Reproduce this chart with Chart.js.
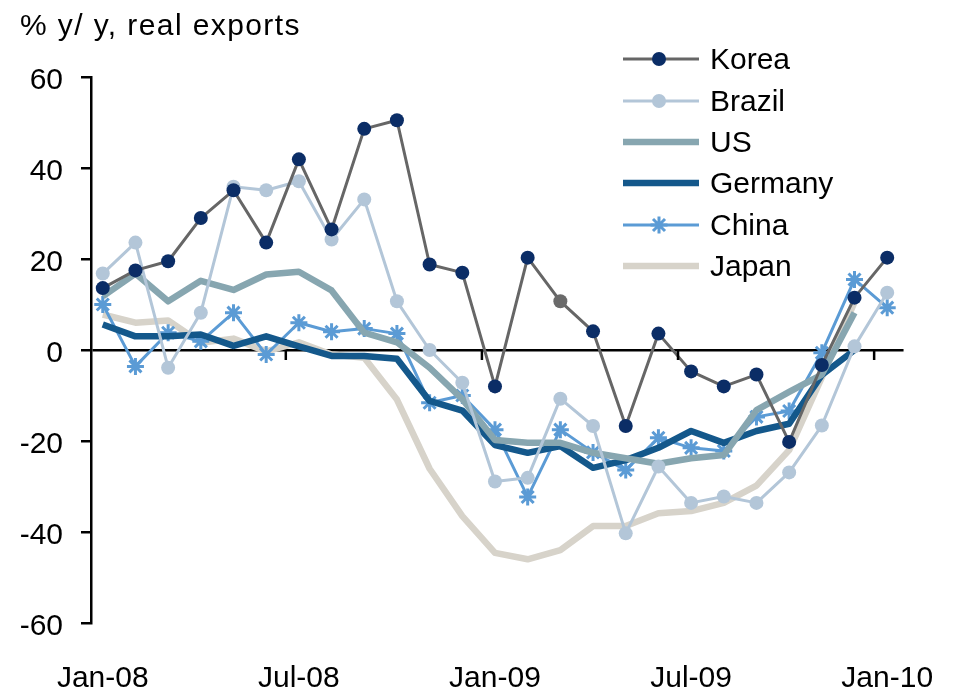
<!DOCTYPE html>
<html>
<head>
<meta charset="utf-8">
<script src="https://cdn.jsdelivr.net/npm/chart.js@4.4.1/dist/chart.umd.min.js"></script>
<style>
  html, body { margin: 0; padding: 0; background: #ffffff; }
  #wrap { width: 972px; height: 693px; position: relative; }
</style>
</head>
<body>
<div id="wrap"><canvas id="c" width="972" height="693"></canvas></div>
<script>
// ---- data ----
const months = ['Jan-08','Feb-08','Mar-08','Apr-08','May-08','Jun-08','Jul-08','Aug-08','Sep-08','Oct-08','Nov-08','Dec-08',
                'Jan-09','Feb-09','Mar-09','Apr-09','May-09','Jun-09','Jul-09','Aug-09','Sep-09','Oct-09','Nov-09','Dec-09','Jan-10'];
const tickLabels = ['Jan-08','Jul-08','Jan-09','Jul-09','Jan-10'];
const titleText = '% y/ y, real exports';

const korea   = [13.6, 17.5, 19.5, 29.0, 35.1, 23.6, 41.9, 26.5, 48.6, 50.5, 18.8, 17.0, -8.0, 20.3, 10.7, 4.1, -16.7, 3.6, -4.7, -8.0, -5.4, -20.2, -3.3, 11.5, 20.3];
const brazil  = [16.8, 23.6, -3.9, 8.2, 35.9, 35.1, 37.1, 24.3, 33.1, 10.7, 0.0, -7.2, -28.9, -28.1, -10.7, -16.7, -40.3, -25.6, -33.6, -32.2, -33.6, -26.9, -16.6, 0.8, 12.6];
const us      = [11.8, 16.8, 10.7, 15.2, 13.2, 16.6, 17.2, 13.1, 3.8, 1.7, -3.9, -10.8, -19.8, -20.4, -20.4, -22.6, -23.8, -25.0, -23.8, -23.1, -13.2, -9.2, -5.4, 8.2];
const germany = [5.6, 3.0, 3.0, 3.4, 0.9, 3.0, 0.8, -1.3, -1.3, -1.9, -11.2, -13.3, -20.9, -22.6, -21.1, -25.9, -24.2, -21.5, -17.8, -20.4, -17.8, -16.2, -5.5, 0.0];
const china   = [10.0, -3.6, 3.8, 1.9, 8.2, -1.0, 6.0, 4.0, 4.7, 3.6, -11.6, -10.0, -17.5, -32.3, -17.5, -22.5, -26.4, -19.3, -21.5, -22.2, -14.7, -13.4, -0.6, 15.5, 9.3];
const japan   = [7.8, 6.0, 6.5, 1.6, 2.5, -0.3, 1.7, -1.0, -1.7, -10.9, -26.1, -36.5, -44.6, -46.0, -44.0, -38.7, -38.7, -35.9, -35.4, -33.6, -29.8, -22.0, -6.0, 10.5];

// ---- build library structures ----
const toXY = arr => arr.map((v, i) => ({ x: i, y: v }));
const FONT = '"Liberation Sans", Arial, sans-serif';

const koreaPointColors = korea.map((v, i) => i === 14 ? '#6a6a6a' : '#0b2d66');

const datasets = [
  { label: 'Korea', data: toXY(korea), borderColor: '#666666', borderWidth: 3,
    pointStyle: 'circle', pointRadius: 7, pointBackgroundColor: koreaPointColors,
    pointBorderColor: koreaPointColors, pointBorderWidth: 0, legendMarker: 'circle', legendMarkerColor: '#0b2d66' },
  { label: 'Brazil', data: toXY(brazil), borderColor: '#b3c6d8', borderWidth: 3,
    pointStyle: 'circle', pointRadius: 7, pointBackgroundColor: '#b3c6d8',
    pointBorderColor: '#b3c6d8', pointBorderWidth: 0, legendMarker: 'circle', legendMarkerColor: '#b3c6d8' },
  { label: 'US', data: toXY(us), borderColor: '#87a6b0', borderWidth: 6.5, pointRadius: 0 },
  { label: 'Germany', data: toXY(germany), borderColor: '#14588b', borderWidth: 6.5, pointRadius: 0 },
  { label: 'China', data: toXY(china), borderColor: '#5b9bd5', borderWidth: 3,
    pointStyle: 'star', pointRadius: 8.5, pointBorderColor: '#5b9bd5', pointBackgroundColor: '#5b9bd5',
    pointBorderWidth: 3, legendMarker: 'star', legendMarkerColor: '#5b9bd5' },
  { label: 'Japan', data: toXY(japan), borderColor: '#d7d3ca', borderWidth: 6.5, pointRadius: 0 }
];
datasets.forEach(d => { d.fill = false; d.tension = 0; d.pointHoverRadius = d.pointRadius; d.borderJoinStyle = 'round'; });

// title plugin (fixed text position like the reference)
const titlePlugin = {
  id: 'topTitle',
  afterDraw(chart) {
    const ctx = chart.ctx;
    ctx.save();
    ctx.font = '30px ' + FONT;
    ctx.fillStyle = '#000';
    ctx.textBaseline = 'alphabetic';
    ctx.textAlign = 'left';
    try { ctx.letterSpacing = '1.4px'; } catch (e) {}
    ctx.fillText(titleText, 20, 35);
    ctx.restore();
  }
};

// x-axis tick marks hanging from the zero line (between categories)
const xTickPlugin = {
  id: 'xZeroTicks',
  afterDatasetsDraw(chart) {
    const xs = chart.scales.x, ys = chart.scales.y, ctx = chart.ctx;
    const y0 = ys.getPixelForValue(0);
    ctx.save();
    ctx.strokeStyle = '#000';
    ctx.lineWidth = 2.5;
    tickLabels.forEach((lab, k) => {
      if (k === 0) return;
      const idx = months.indexOf(lab) - 0.4;
      const px = xs.getPixelForValue(idx);
      ctx.beginPath();
      ctx.moveTo(px, y0);
      ctx.lineTo(px, y0 + 10);
      ctx.stroke();
    });
    ctx.restore();
  }
};

// legend inside the plot (line sample + marker + label)
const legendPlugin = {
  id: 'insideLegend',
  afterDraw(chart) {
    const ctx = chart.ctx;
    const x0 = 623, x1 = 699, tx = 710;
    const rowY = [59, 101, 142, 183, 225, 266];
    ctx.save();
    chart.data.datasets.forEach((d, i) => {
      const y = rowY[i];
      ctx.strokeStyle = d.borderColor;
      ctx.lineWidth = d.borderWidth;
      ctx.lineCap = 'butt';
      ctx.beginPath(); ctx.moveTo(x0, y); ctx.lineTo(x1, y); ctx.stroke();
      if (d.legendMarker) {
        const mx = (x0 + x1) / 2 - 2;
        ctx.fillStyle = d.legendMarkerColor;
        ctx.strokeStyle = d.legendMarkerColor;
        if (d.legendMarker === 'circle') {
          ctx.beginPath();
          ctx.arc(mx, y, d.pointRadius, 0, Math.PI * 2);
          ctx.fill();
        } else {
          ctx.lineWidth = d.pointBorderWidth;
          Chart.helpers.drawPoint(ctx, { pointStyle: 'star', radius: d.pointRadius, borderWidth: d.pointBorderWidth, rotation: 0 }, mx, y);
        }
      }
      ctx.fillStyle = '#000';
      ctx.font = '30px ' + FONT;
      ctx.textBaseline = 'middle';
      ctx.textAlign = 'left';
      ctx.fillText(d.label, tx, y + 2);
    });
    ctx.restore();
  }
};

new Chart(document.getElementById('c'), {
  type: 'line',
  data: { datasets },
  options: {
    responsive: false,
    animation: false,
    events: [],
    layout: { padding: { top: 77, right: 46, left: 0, bottom: 0 } },
    plugins: { legend: { display: false }, tooltip: { enabled: false }, title: { display: false } },
    scales: {
      x: {
        type: 'linear',
        min: -0.36,
        max: 24.5,
        afterBuildTicks(scale) {
          scale.ticks = tickLabels.map(l => ({ value: months.indexOf(l) }));
        },
        afterFit(scale) { scale.height = 70; },
        grid: { display: false, drawTicks: false },
        border: { display: false },
        ticks: {
          autoSkip: false,
          maxRotation: 0,
          padding: 38,
          color: '#000',
          font: { family: FONT, size: 30 },
          callback: (v) => months[v]
        }
      },
      y: {
        min: -60,
        max: 60,
        afterFit(scale) { scale.width = 91; },
        ticks: { stepSize: 20, color: '#000', padding: 18, labelOffset: 4, font: { family: FONT, size: 30 } },
        grid: {
          color: (ctx) => (ctx.tick && ctx.tick.value === 0) ? '#000' : 'rgba(0,0,0,0)',
          lineWidth: 2.5,
          tickColor: '#000',
          tickLength: 10,
          tickWidth: 2.5
        },
        border: { display: true, color: '#000', width: 2.5 }
      }
    }
  },
  plugins: [titlePlugin, xTickPlugin, legendPlugin]
});
</script>
</body>
</html>
